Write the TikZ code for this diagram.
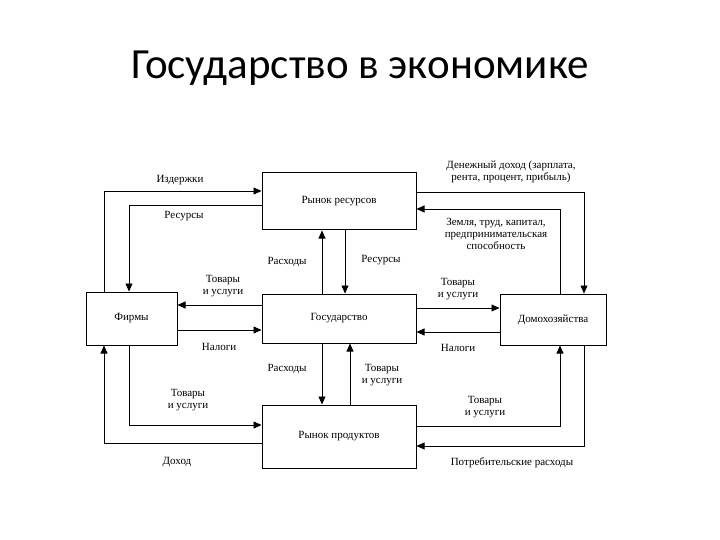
\documentclass[tikz,border=0pt]{standalone}
\usepackage{fontspec}
\setmainfont{Liberation Serif}
\newfontfamily\titlefont{Carlito}
\usetikzlibrary{arrows.meta}
\begin{document}
\begin{tikzpicture}[x=1pt,y=-1pt,
  box/.style={draw,line width=1pt,inner sep=0pt,font=\fontsize{11}{12}\selectfont},
  flow/.style={line width=0.7pt,-{Triangle[length=8pt,width=7pt]}},
  lbl/.style={font=\fontsize{11}{12}\selectfont,align=center,inner sep=1pt}]
\useasboundingbox (0,0) rectangle (720,540);
\node[font=\titlefont\fontsize{43}{46}\selectfont] (title) at (360,68) {Государство в экономике};
\node[box,minimum width=154pt,minimum height=57pt] (rr) at (339,201.5) {Рынок ресурсов};
\node[box,minimum width=91pt,minimum height=53pt] (f) at (131.5,318.5) {Фирмы};
\node[box,minimum width=154pt,minimum height=49pt] (g) at (339,318.5) {Государство};
\node[box,minimum width=106pt,minimum height=51pt] (h) at (553,319.5) {Домохозяйства};
\node[box,minimum width=154pt,minimum height=63pt] (rp) at (339,436.5) {Рынок продуктов};
% left top
\coordinate (c1) at (104,191); \coordinate (c2) at (129,205);
\draw[flow] (f.north -| c1) -- (c1) -- (rr.west |- c1);
\draw[flow] (rr.west |- c2) -- (c2) -- (f.north -| c2);
\node[lbl] (l1) at (180,180) {Издержки};
\node[lbl] (l2) at (184,216) {Ресурсы};
% middle vertical upper
\coordinate (v1) at (322,0); \coordinate (v2) at (345,0);
\draw[flow] (g.north -| v1) -- (rr.south -| v1);
\draw[flow] (rr.south -| v2) -- (g.north -| v2);
\node[lbl] (l3) at (287,262) {Расходы};
\node[lbl] (l4) at (381,260) {Ресурсы};
% firm - gov
\coordinate (hA) at (0,305); \coordinate (hB) at (0,330);
\draw[flow] (g.west |- hA) -- (f.east |- hA);
\draw[flow] (f.east |- hB) -- (g.west |- hB);
\node[lbl] (l5) at (223,286) {Товары\\и услуги};
\node[lbl] (l6) at (219,347) {Налоги};
% lower vertical
\coordinate (v3) at (350,0);
\draw[flow] (g.south -| v1) -- (rp.north -| v1);
\draw[flow] (rp.north -| v3) -- (g.south -| v3);
\node[lbl] (l7) at (287,369) {Расходы};
\node[lbl] (l8) at (382,375) {Товары\\и услуги};
% left bottom
\coordinate (c3) at (129,425); \coordinate (c4) at (104,443);
\draw[flow] (f.south -| c3) -- (c3) -- (rp.west |- c3);
\draw[flow] (rp.west |- c4) -- (c4) -- (f.south -| c4);
\node[lbl] (l9) at (188,400) {Товары\\и услуги};
\node[lbl] (l10) at (177,462) {Доход};
% right top
\coordinate (c5) at (584,192); \coordinate (c6) at (560,209);
\draw[flow] (rr.east |- c5) -- (c5) -- (h.north -| c5);
\draw[flow] (h.north -| c6) -- (c6) -- (rr.east |- c6);
\node[lbl] (l11) at (511,172) {Денежный доход (зарплата,\\рента, процент, прибыль)};
\node[lbl] (l12) at (496,234) {Земля, труд, капитал,\\предпринимательская\\способность};
% gov - hh
\coordinate (hC) at (0,308); \coordinate (hD) at (0,332);
\draw[flow] (g.east |- hC) -- (h.west |- hC);
\draw[flow] (h.west |- hD) -- (g.east |- hD);
\node[lbl] (l13) at (458,289) {Товары\\и услуги};
\node[lbl] (l14) at (458,348) {Налоги};
% right bottom
\coordinate (c7) at (560,426); \coordinate (c8) at (584,446);
\draw[flow] (rp.east |- c7) -- (c7) -- (h.south -| c7);
\draw[flow] (h.south -| c8) -- (c8) -- (rp.east |- c8);
\node[lbl] (l15) at (485,407) {Товары\\и услуги};
\node[lbl] (l16) at (512,463) {Потребительские расходы};
\end{tikzpicture}
\end{document}
